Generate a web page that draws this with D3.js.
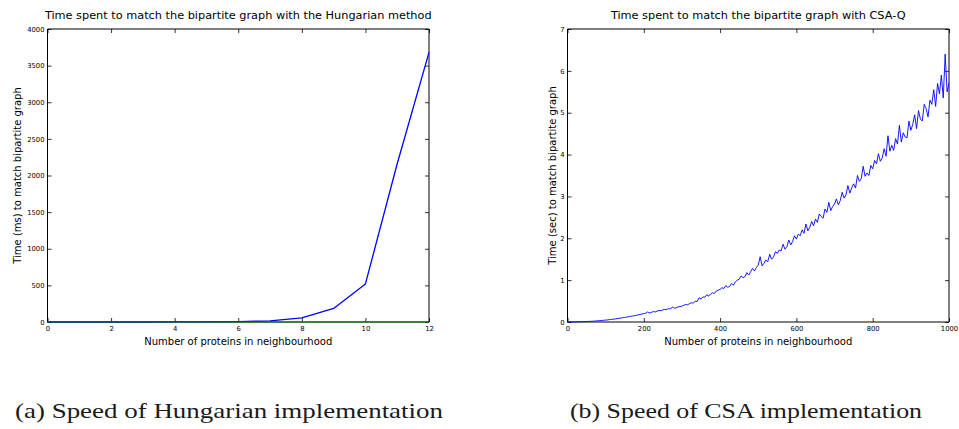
<!DOCTYPE html>
<meta charset="utf-8">
<style>
body { margin: 0; background: #fff; }
svg { display: block; background: #fff; }
text { font-family: "DejaVu Sans", sans-serif; fill: #000; }
.title { font-size: 11.3px; text-anchor: middle; }
.tick text { font-size: 6.8px; font-family: "DejaVu Sans", sans-serif; fill: #000; }
.tick line { stroke: #000; stroke-width: 0.8px; }
.label { font-size: 10px; text-anchor: middle; }
.caption { font-family: "Liberation Serif", serif; font-size: 22px; fill: #1a1a1a; }
</style>
<svg width="959" height="429"></svg>
<script src="https://d3js.org/d3.v7.min.js"></script>
<script>

// ---- data ----
var hungarianN = [0, 1, 2, 3, 4, 5, 6, 7, 8, 9, 10, 11, 12];
var hungarianMs = [0, 0, 0, 0, 1, 2, 5, 16, 55, 185, 520, 2160, 3680];
var hungarianZero = [0, 0, 0, 0, 0, 0, 0, 0, 0, 0, 0, 0, 0];

var hungarianXTicks = [0, 2, 4, 6, 8, 10, 12];
var hungarianYTicks = [0, 500, 1000, 1500, 2000, 2500, 3000, 3500, 4000];

// CSA-Q timings, one reading every 5 proteins (0..1000)
var csaStep = 5;
var csaSec = [
  0, 0.001, 0.002, 0.002, 0.004, 0.005, 0.006, 0.007, 0.009, 0.01,
  0.012, 0.014, 0.016, 0.02, 0.021, 0.026, 0.028, 0.033, 0.036, 0.042,
  0.045, 0.05, 0.057, 0.06, 0.068, 0.072, 0.081, 0.088, 0.094, 0.103,
  0.11, 0.118, 0.124, 0.135, 0.141, 0.15, 0.162, 0.168, 0.18, 0.19,
  0.2, 0.21, 0.24, 0.215, 0.23, 0.25, 0.24, 0.26, 0.275, 0.27,
  0.29, 0.3, 0.295, 0.32, 0.31, 0.36, 0.33, 0.34, 0.36, 0.37,
  0.38, 0.4, 0.42, 0.41, 0.44, 0.46, 0.45, 0.5, 0.49, 0.58,
  0.55, 0.6, 0.59, 0.65, 0.62, 0.66, 0.7, 0.68, 0.74, 0.76,
  0.78, 0.82, 0.8, 0.87, 0.83, 0.85, 0.92, 0.88, 0.96, 1.0,
  1.02, 1.1, 1.06, 1.08, 1.18, 1.12, 1.2, 1.28, 1.22, 1.3,
  1.36, 1.56, 1.34, 1.4, 1.48, 1.44, 1.62, 1.5, 1.55, 1.68,
  1.64, 1.72, 1.7, 1.86, 1.74, 1.8, 1.96, 1.84, 1.92, 2.06,
  1.98, 2.1, 2.06, 2.2, 2.12, 2.34, 2.18, 2.26, 2.4, 2.3,
  2.46, 2.38, 2.58, 2.52, 2.48, 2.7, 2.62, 2.86, 2.66, 2.76,
  2.82, 2.94, 2.8, 2.9, 3.1, 2.96, 3.04, 3.26, 3.08, 3.2,
  3.3, 3.2, 3.5, 3.36, 3.42, 3.72, 3.48, 3.56, 3.5, 3.74,
  3.66, 3.86, 3.78, 4.02, 3.84, 3.92, 4.14, 3.96, 4.45, 4.08,
  4.22, 4.1, 4.38, 4.25, 4.7, 4.3, 4.52, 4.42, 4.4, 4.8,
  4.58, 4.72, 4.95, 4.62, 5.05, 4.85, 4.8, 5.2, 5.1, 4.9,
  5.3, 5.2, 5.55, 5.15, 5.7, 5.45, 5.9, 5.35, 6.4, 5.5,
  5.7
];
var csaN = csaSec.map(function(d, i) { return i * csaStep; });

var csaXTicks = [0, 200, 400, 600, 800, 1000];
var csaYTicks = [0, 1, 2, 3, 4, 5, 6, 7];

var svg = d3.select("svg");

function panel(o) {
  var x = d3.scaleLinear().domain(o.xDomain).range(o.xRange);
  var y = d3.scaleLinear().domain(o.yDomain).range([322, 29]);
  var g = svg.append("g");
  var x0 = o.xRange[0], x1 = o.xRange[1], y0 = 322, y1 = 29;

  // ticks on all four sides, pointing inward
  g.append("g").attr("transform", "translate(0," + y0 + ")")
      .call(d3.axisBottom(x).tickValues(o.xTicks).tickSize(-4).tickPadding(4).tickFormat(d3.format("d")))
      .call(function(a) { a.select(".domain").remove(); });
  g.append("g").attr("transform", "translate(0," + y1 + ")")
      .call(d3.axisTop(x).tickValues(o.xTicks).tickSize(-4).tickFormat(""))
      .call(function(a) { a.select(".domain").remove(); });
  g.append("g").attr("transform", "translate(" + x0 + ",0)")
      .call(d3.axisLeft(y).tickValues(o.yTicks).tickSize(-4).tickPadding(3).tickFormat(d3.format("d")))
      .call(function(a) { a.select(".domain").remove(); });
  g.append("g").attr("transform", "translate(" + x1 + ",0)")
      .call(d3.axisRight(y).tickValues(o.yTicks).tickSize(-4).tickFormat(""))
      .call(function(a) { a.select(".domain").remove(); });

  // frame
  g.append("path")
      .attr("d", "M" + x0 + "," + y0 + "V" + y1 + "H" + x1 + "V" + y0 + "Z")
      .attr("fill", "none").attr("stroke", "#000").attr("stroke-width", 1);

  var line = d3.line()
      .x(function(d) { return x(d[0]); })
      .y(function(d) { return y(d[1]); });

  o.series.forEach(function(s) {
    g.append("path")
        .datum(d3.zip(s.x, s.y))
        .attr("fill", "none")
        .attr("stroke", s.color)
        .attr("stroke-width", s.width)
        .attr("stroke-linejoin", "round")
        .attr("d", line);
  });

  g.append("text").attr("class", "title")
      .attr("x", (x0 + x1) / 2).attr("y", 19)
      .text(o.title);
  g.append("text").attr("class", "label")
      .attr("x", (x0 + x1) / 2).attr("y", 345)
      .text(o.xLabel);
  g.append("text").attr("class", "label")
      .attr("transform", "translate(" + o.yLabelX + "," + (y0 + y1) / 2 + ") rotate(-90)")
      .text(o.yLabel);
  g.append("text").attr("class", "caption")
      .attr("x", o.captionX).attr("y", 418)
      .attr("textLength", o.captionW).attr("lengthAdjust", "spacingAndGlyphs")
      .text(o.caption);
}

panel({
  xDomain: [0, 12], xRange: [47.5, 429],
  yDomain: [0, 4000],
  xTicks: hungarianXTicks, yTicks: hungarianYTicks,
  series: [
    { x: hungarianN, y: hungarianMs, color: "#0000ff", width: 1.3 },
    { x: hungarianN, y: hungarianZero, color: "#008000", width: 1 }
  ],
  title: "Time spent to match the bipartite graph with the Hungarian method",
  xLabel: "Number of proteins in neighbourhood",
  yLabel: "Time (ms) to match bipartite graph",
  yLabelX: 20.5,
  caption: "(a) Speed of Hungarian implementation",
  captionX: 15, captionW: 428
});

panel({
  xDomain: [0, 1000], xRange: [567.5, 949],
  yDomain: [0, 7],
  xTicks: csaXTicks, yTicks: csaYTicks,
  series: [
    { x: csaN, y: csaSec, color: "#0000ff", width: 0.9 }
  ],
  title: "Time spent to match the bipartite graph with CSA-Q",
  xLabel: "Number of proteins in neighbourhood",
  yLabel: "Time (sec) to match bipartite graph",
  yLabelX: 556,
  caption: "(b) Speed of CSA implementation",
  captionX: 570, captionW: 352
});

</script>
